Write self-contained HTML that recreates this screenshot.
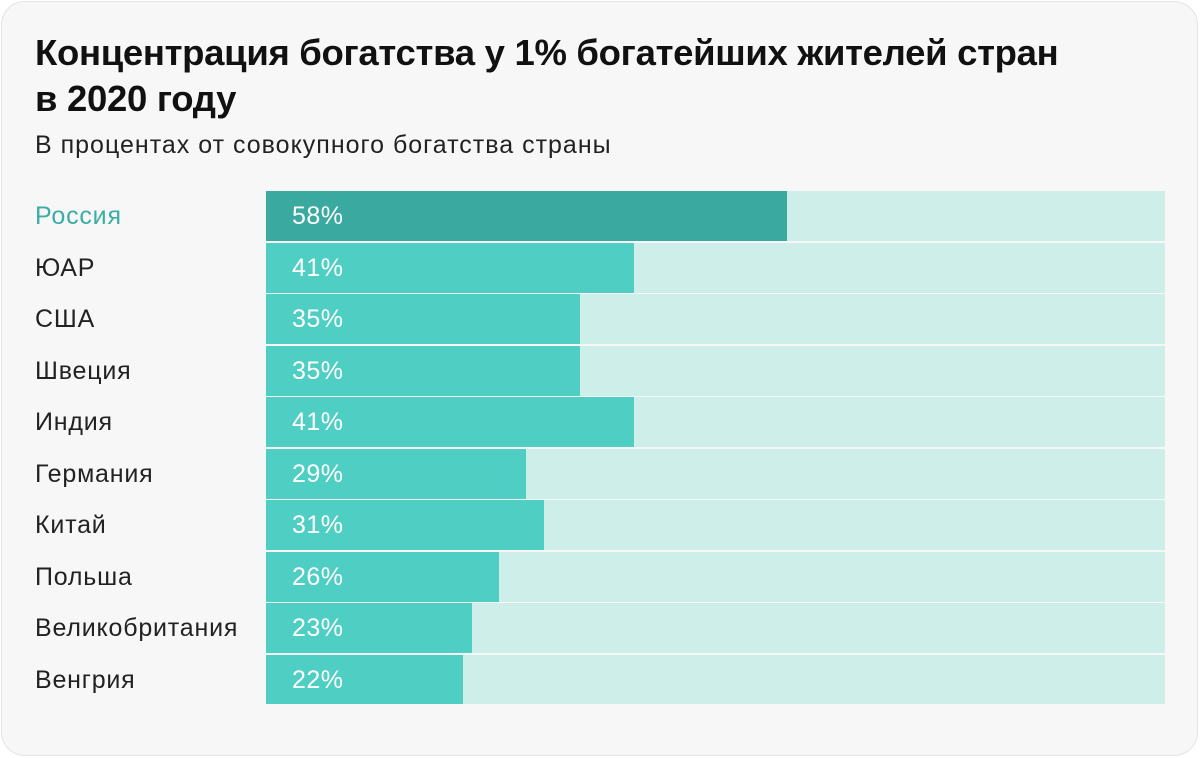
<!DOCTYPE html><html><head><meta charset="utf-8"><style>
body{margin:0;width:1200px;height:758px;background:#fff;font-family:"Liberation Sans",sans-serif;position:relative;overflow:hidden}
.card{position:absolute;left:1px;top:1px;width:1195px;height:753px;background:#f7f7f7;border:1px solid #e4e4e4;border-radius:24px}
h1{position:absolute;left:35px;top:30px;margin:0;font-size:36.5px;line-height:46px;font-weight:bold;color:#111;letter-spacing:-0.3px}
.sub{position:absolute;left:35px;top:131px;font-size:25px;letter-spacing:1px;color:#222}
.lab{position:absolute;left:35px;font-size:25px;letter-spacing:0.8px;color:#222;line-height:50px}
.bg{position:absolute;left:266px;width:899px;height:50px;background:#ceeeea}
.b{position:absolute;left:0;top:0;height:50px;background:#4fcec4}
.v{position:absolute;left:26px;line-height:50px;font-size:25px;letter-spacing:0.5px;color:#fff}
</style></head><body><div class="card"></div>
<h1>Концентрация богатства у 1% богатейших жителей стран<br>в 2020 году</h1>
<div class="sub">В процентах от совокупного богатства страны</div>
<div class="lab" style="top:191px;color:#3aaea3">Россия</div><div class="bg" style="top:191px"><div class="b" style="width:521px;background:#3aa9a0"></div><div class="v">58%</div></div>
<div class="lab" style="top:242.5px">ЮАР</div><div class="bg" style="top:242.5px"><div class="b" style="width:368px"></div><div class="v">41%</div></div>
<div class="lab" style="top:294px">США</div><div class="bg" style="top:294px"><div class="b" style="width:314px"></div><div class="v">35%</div></div>
<div class="lab" style="top:345.5px">Швеция</div><div class="bg" style="top:345.5px"><div class="b" style="width:314px"></div><div class="v">35%</div></div>
<div class="lab" style="top:397px">Индия</div><div class="bg" style="top:397px"><div class="b" style="width:368px"></div><div class="v">41%</div></div>
<div class="lab" style="top:448.5px">Германия</div><div class="bg" style="top:448.5px"><div class="b" style="width:260px"></div><div class="v">29%</div></div>
<div class="lab" style="top:500px">Китай</div><div class="bg" style="top:500px"><div class="b" style="width:278px"></div><div class="v">31%</div></div>
<div class="lab" style="top:551.5px">Польша</div><div class="bg" style="top:551.5px"><div class="b" style="width:233px"></div><div class="v">26%</div></div>
<div class="lab" style="top:603px">Великобритания</div><div class="bg" style="top:603px"><div class="b" style="width:206px"></div><div class="v">23%</div></div>
<div class="lab" style="top:654.5px">Венгрия</div><div class="bg" style="top:654.5px;height:49px"><div class="b" style="width:197px;height:49px"></div><div class="v">22%</div></div>
</body></html>
